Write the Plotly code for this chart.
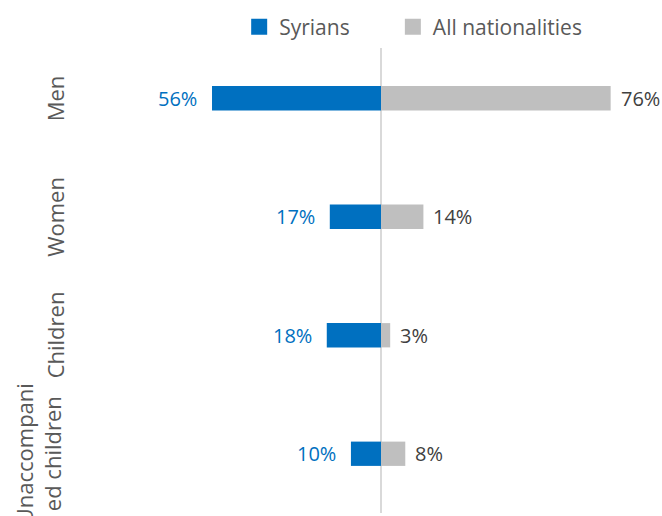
import plotly.graph_objects as go

categories = ["Men", "Women", "Children", "Unaccompani<br>ed children"]
syrians = [56, 17, 18, 10]
all_nat = [76, 14, 3, 8]

blue = "#0070C0"
grey = "#BFBFBF"
font = "Open Sans"

fig = go.Figure()
fig.add_trace(go.Bar(
    y=categories, x=[-v for v in syrians], orientation="h", name="Syrians",
    marker=dict(color=blue, line=dict(width=0)), width=0.205,
    hoverinfo="skip", showlegend=False,
))
fig.add_trace(go.Bar(
    y=categories, x=all_nat, orientation="h", name="All nationalities",
    marker=dict(color=grey, line=dict(width=0)), width=0.205,
    hoverinfo="skip", showlegend=False,
))
# legend-only entries with larger square swatches
legend_names = ["Syrians" + "\u00a0" * 7, "All nationalities"]
for name, col in zip(legend_names, [blue, grey]):
    fig.add_trace(go.Scatter(x=[None], y=[None], mode="markers", name=name,
                             marker=dict(symbol="square", size=16, color=col),
                             hoverinfo="skip", showlegend=True))

annotations = []
for c, v in zip(categories, syrians):
    annotations.append(dict(x=-v, y=c, xref="x", yref="y", text=f"{v}%",
                            xanchor="right", yanchor="middle", xshift=-13,
                            showarrow=False, font=dict(family=font, size=20, color=blue)))
for c, v in zip(categories, all_nat):
    annotations.append(dict(x=v, y=c, xref="x", yref="y", text=f"{v}%",
                            xanchor="left", yanchor="middle", xshift=8,
                            showarrow=False, font=dict(family=font, size=20, color="#404040")))
label_x = [-0.061, -0.061, -0.061, -0.090]
for c, lx in zip(categories, label_x):
    annotations.append(dict(x=lx, y=c, xref="paper", yref="y", text=c,
                            textangle=-90, xanchor="center", yanchor="middle",
                            showarrow=False,
                            font=dict(family=font, size=22, color="#595959")))

fig.update_layout(
    width=662, height=516,
    margin=dict(l=90, r=0, t=39, b=3, autoexpand=False),
    barmode="overlay",
    plot_bgcolor="white", paper_bgcolor="white",
    font=dict(family=font, size=20, color="#595959"),
    legend=dict(orientation="h", x=0.565, xanchor="center", y=1.025, yanchor="middle",
                font=dict(family=font, size=21, color="#595959"),
                itemwidth=30, traceorder="normal"),
    annotations=annotations,
    showlegend=True,
)
fig.update_xaxes(range=[-96.4, 93.0], showgrid=False, showticklabels=False,
                 zeroline=True, zerolinecolor="#D9D9D9", zerolinewidth=2,
                 fixedrange=True)
fig.update_yaxes(range=[3.5, -0.5], autorange=False, showticklabels=False, showgrid=False,
                 categoryorder="array", categoryarray=categories, fixedrange=True)

fig.write_html("out.html", config={"displayModeBar": False},
               post_script="document.body.style.margin='0';document.body.style.overflow='hidden';")
